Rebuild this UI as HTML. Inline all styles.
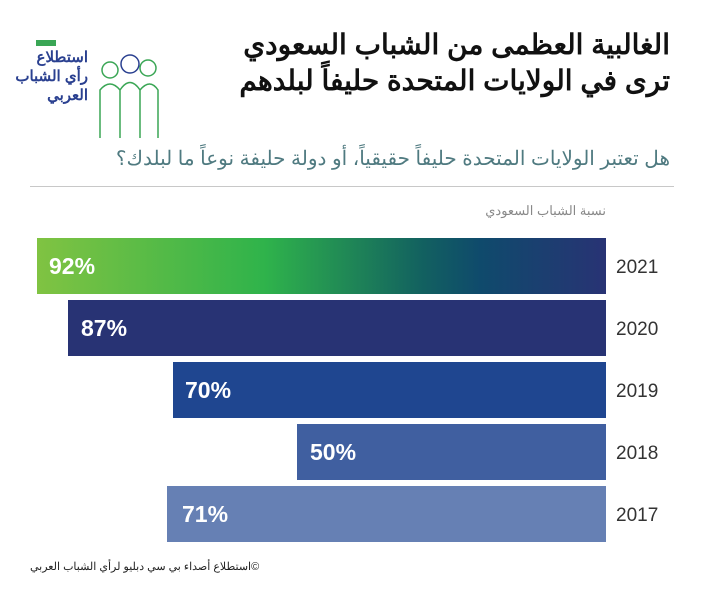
<!DOCTYPE html>
<html><head><meta charset="utf-8"><style>
body{margin:0;width:702px;height:594px;background:#fff;position:relative;overflow:hidden;font-family:"Liberation Sans","Noto Sans CJK SC",sans-serif}
.a{position:absolute}
.bar{position:absolute;right:96px;height:56px}
.pct{position:absolute;color:#fff;font-weight:bold;font-size:23px;top:15px}
.yr{position:absolute;left:616px;font-size:19px;color:#333}
</style></head><body>
<div class="a" dir="rtl" style="right:32px;top:27px;font-size:28px;font-weight:bold;line-height:36px;text-align:right;color:#111">الغالبية العظمى من الشباب السعودي<br>ترى في الولايات المتحدة حليفاً لبلدهم</div>
<div class="a" style="left:28px;top:32px;width:140px;height:120px">
<div class="a" style="left:8px;top:8px;width:20px;height:6px;background:#3aa655"></div>
<div class="a" dir="rtl" style="right:80px;top:16px;font-size:15px;font-weight:bold;line-height:19px;color:#2a4090;text-align:right;white-space:nowrap">استطلاع<br>رأي الشباب<br>العربي</div>
<svg class="a" style="left:68px;top:18px" width="66" height="95"><g fill="none" stroke="#3aa655" stroke-width="1.5"><circle cx="14" cy="20" r="8"/><circle cx="34" cy="14" r="9" stroke="#2a4090"/><circle cx="52" cy="18" r="8"/><path d="M4 88 V40 Q14 28 24 40 V88 M24 40 Q34 25 44 40 V88 M44 40 Q54 28 62 40 V88"/></g></svg>
</div>
<div class="a" dir="rtl" style="right:32px;top:146px;font-size:20px;color:#4f7a80;white-space:nowrap">هل تعتبر الولايات المتحدة حليفاً حقيقياً، أو دولة حليفة نوعاً ما لبلدك؟</div>
<div class="a" style="left:30px;top:186px;width:644px;height:1px;background:#c8c8c8"></div>
<div class="a" dir="rtl" style="right:96px;top:203px;font-size:13px;color:#888">نسبة الشباب السعودي</div>
<div class="bar" style="left:37px;top:238px;background:linear-gradient(90deg,#80c342 0%,#2fb34b 40%,#126060 68%,#0f4a6c 78%,#283374 100%)"><span class="pct" style="left:12px">92%</span></div>
<div class="bar" style="left:68px;top:300px;background:#283374"><span class="pct" style="left:13px">87%</span></div>
<div class="bar" style="left:173px;top:362px;background:#1f4690"><span class="pct" style="left:12px">70%</span></div>
<div class="bar" style="left:297px;top:424px;background:#405fa0"><span class="pct" style="left:13px">50%</span></div>
<div class="bar" style="left:167px;top:486px;background:#6680b4"><span class="pct" style="left:15px">71%</span></div>
<div class="yr" style="top:257px">2021</div>
<div class="yr" style="top:319px">2020</div>
<div class="yr" style="top:381px">2019</div>
<div class="yr" style="top:443px">2018</div>
<div class="yr" style="top:505px">2017</div>
<div class="a" dir="rtl" style="left:30px;top:560px;font-size:11px;color:#222;white-space:nowrap">©استطلاع أصداء بي سي دبليو لرأي الشباب العربي</div>
</body></html>
